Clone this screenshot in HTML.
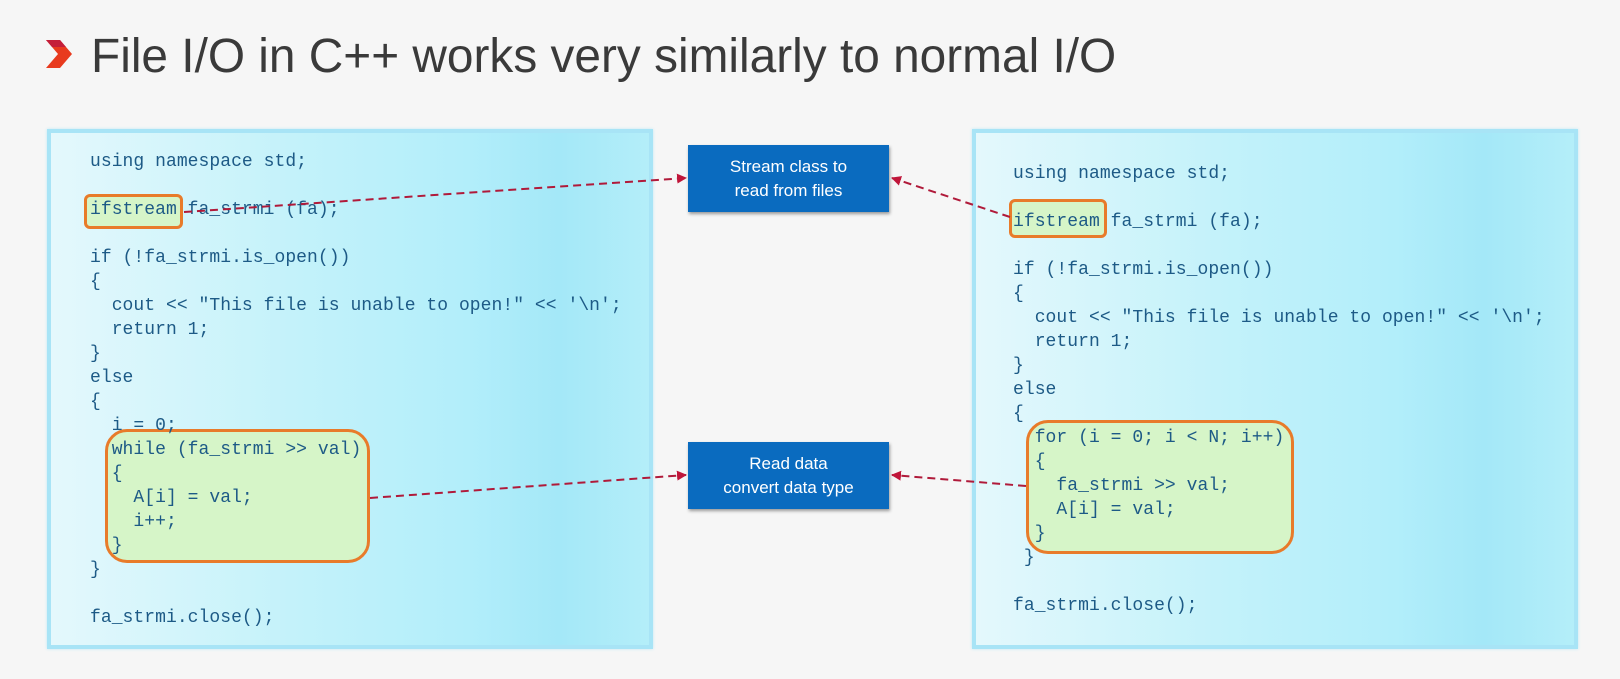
<!DOCTYPE html>
<html><head><style>
body{margin:0;width:1620px;height:679px;background:#f6f6f6;position:relative;overflow:hidden;font-family:"Liberation Sans",sans-serif}
.title{position:absolute;left:91px;top:29px;font-size:47.8px;color:#3a3a3a;white-space:nowrap}
.panel{position:absolute;top:129px;width:606px;height:520px;background:linear-gradient(90deg,#e4f8fc 0%,#c4f2fa 40%,#b2eefa 70%,#a4e8f8 85%,#b4eef9 100%);border:4px solid #a8e4f6;box-sizing:border-box;box-shadow:0 0 3px #bfe9f6}
pre{position:absolute;margin:0;font-family:"Liberation Mono",monospace;font-size:18px;letter-spacing:0.05px;line-height:24px;color:#1d5a86}
.hl{position:absolute;border:3px solid #e87b2a;background:#d6f5c8;box-sizing:border-box}
.box{position:absolute;left:688px;width:201px;height:67px;background:#0a6bbf;color:#fff;font-size:17px;text-align:center;display:flex;align-items:center;justify-content:center;line-height:24px;box-shadow:1px 2px 3px #999}
</style></head><body>
<svg style="position:absolute;left:44px;top:38px" width="30" height="32"><polygon points="2,2 16,2 28,16 16,30 2,30 14,16" fill="#e83a1e"/><polygon points="2,2 16,2 22,9 8,9" fill="#c41e3a"/></svg>
<div class="title">File I/O in C++ works very similarly to normal I/O</div>
<div class="panel" style="left:47px"></div>
<div class="panel" style="left:972px"></div>
<div class="hl" style="left:84px;top:194px;width:99px;height:35px;border-radius:6px"></div>
<div class="hl" style="left:105px;top:429px;width:265px;height:134px;border-radius:22px"></div>
<div class="hl" style="left:1009px;top:199px;width:98px;height:39px;border-radius:6px"></div>
<div class="hl" style="left:1026px;top:420px;width:268px;height:134px;border-radius:22px"></div>
<pre style="left:90px;top:150px">using namespace std;

ifstream fa_strmi (fa);

if (!fa_strmi.is_open())
{
  cout &lt;&lt; "This file is unable to open!" &lt;&lt; '\n';
  return 1;
}
else
{
  i = 0;
  while (fa_strmi &gt;&gt; val)
  {
    A[i] = val;
    i++;
  }
}

fa_strmi.close();</pre>
<pre style="left:1013px;top:162px">using namespace std;

ifstream fa_strmi (fa);

if (!fa_strmi.is_open())
{
  cout &lt;&lt; "This file is unable to open!" &lt;&lt; '\n';
  return 1;
}
else
{
  for (i = 0; i &lt; N; i++)
  {
    fa_strmi &gt;&gt; val;
    A[i] = val;
  }
 }

fa_strmi.close();</pre>
<div class="box" style="top:145px">Stream class to<br>read from files</div>
<div class="box" style="top:442px">Read data<br>convert data type</div>
<svg style="position:absolute;left:0;top:0" width="1620" height="679">
<defs><marker id="a" markerWidth="10" markerHeight="10" refX="9" refY="5" orient="auto" markerUnits="userSpaceOnUse"><polygon points="0,0 10,5 0,10" fill="#c0163a"/></marker></defs>
<g stroke="#b01a3a" stroke-width="2" stroke-dasharray="8,5" fill="none" marker-end="url(#a)">
<line x1="184" y1="212" x2="686" y2="178"/>
<line x1="1010" y1="217" x2="892" y2="178"/>
<line x1="370" y1="498" x2="686" y2="475"/>
<line x1="1026" y1="486" x2="892" y2="475"/>
</g></svg>
</body></html>
